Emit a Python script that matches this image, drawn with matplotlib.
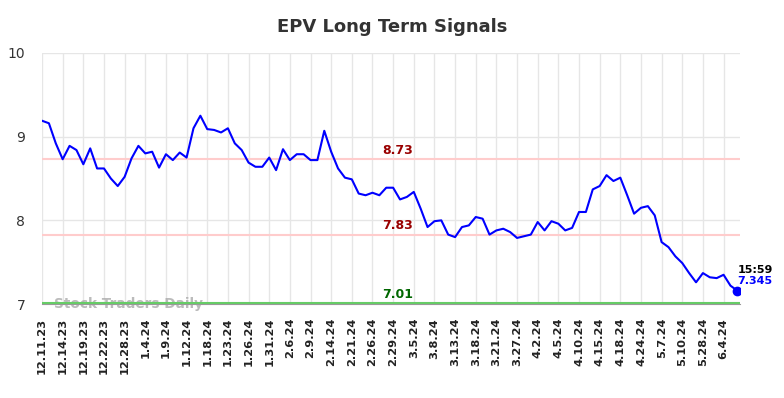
import matplotlib.pyplot as plt

# Close prices, one point per trading day shown on the chart
prices = [
    9.19, 9.16, 8.92, 8.73, 8.89, 8.84, 8.67, 8.86, 8.62, 8.62,
    8.50, 8.41, 8.52, 8.74, 8.89, 8.80, 8.82, 8.63, 8.79, 8.72,
    8.81, 8.75, 9.10, 9.25, 9.09, 9.08, 9.05, 9.10, 8.92, 8.84,
    8.69, 8.64, 8.64, 8.75, 8.60, 8.85, 8.72, 8.79, 8.79, 8.72,
    8.72, 9.07, 8.82, 8.62, 8.51, 8.49, 8.32, 8.30, 8.33, 8.30,
    8.39, 8.39, 8.25, 8.28, 8.34, 8.14, 7.92, 7.99, 8.00, 7.83,
    7.80, 7.92, 7.94, 8.04, 8.02, 7.83, 7.88, 7.90, 7.86, 7.79,
    7.81, 7.83, 7.98, 7.88, 7.99, 7.96, 7.88, 7.91, 8.10, 8.10,
    8.37, 8.41, 8.54, 8.47, 8.51, 8.30, 8.08, 8.15, 8.17, 8.06,
    7.74, 7.68, 7.57, 7.49, 7.37, 7.26, 7.37, 7.32, 7.31, 7.35,
    7.22, 7.16,
]

tick_labels = [
    "12.11.23", "12.14.23", "12.19.23", "12.22.23", "12.28.23", "1.4.24",
    "1.9.24", "1.12.24", "1.18.24", "1.23.24", "1.26.24", "1.31.24",
    "2.6.24", "2.9.24", "2.14.24", "2.21.24", "2.26.24", "2.29.24",
    "3.5.24", "3.8.24", "3.13.24", "3.18.24", "3.21.24", "3.27.24",
    "4.2.24", "4.5.24", "4.10.24", "4.15.24", "4.18.24", "4.24.24",
    "5.7.24", "5.10.24", "5.28.24", "6.4.24",
]

resistance_high = 8.73
resistance_low = 7.83
support = 7.01
last_time = "15:59"
last_price = "7.345"

fig = plt.figure(figsize=(7.84, 3.98), dpi=100)
ax = fig.add_axes([0.0536, 0.236, 0.8904, 0.631])

x = list(range(len(prices)))
ax.plot(x, prices, color="#0000ff", linewidth=1.5, zorder=4)
ax.plot(x[-1], prices[-1], "o", color="#0000ff", markersize=6, zorder=5)

ax.axhline(resistance_high, color="#ffcccc", linewidth=1.5, zorder=2)
ax.axhline(resistance_low, color="#ffcccc", linewidth=1.5, zorder=2)
ax.axhline(support, color="#66cc66", linewidth=1.5, zorder=3)

# level labels sit near the middle of the chart
mid = 51.7
ax.text(mid, resistance_high + 0.03, f"{resistance_high:.2f}", color="#990000",
        fontsize=9, fontweight="bold", ha="center", va="bottom")
ax.text(mid, resistance_low + 0.03, f"{resistance_low:.2f}", color="#990000",
        fontsize=9, fontweight="bold", ha="center", va="bottom")
ax.text(mid, support + 0.03, f"{support:.2f}", color="#006600",
        fontsize=9, fontweight="bold", ha="center", va="bottom")

ax.text(x[-1], 7.35, last_time, color="black", fontsize=8, fontweight="bold",
        ha="left", va="bottom")
ax.text(x[-1], 7.33, last_price, color="#0000ff", fontsize=8, fontweight="bold",
        ha="left", va="top")

ax.text(1.7, 7.0, "Stock Traders Daily", color="#aaaaaa", alpha=0.8,
        fontsize=9.8, fontweight="bold", ha="left", va="center", zorder=1)

ax.set_xlim(0, 101.4)
ax.set_ylim(7, 10)
ax.set_yticks([7, 8, 9, 10])
ax.set_xticks(range(0, len(prices), 3))
ax.set_xticklabels(tick_labels, rotation=90, fontsize=8.2, fontweight="bold",
                   color="#222222")
ax.tick_params(axis="y", labelsize=10, colors="#333333", length=0, pad=12)
ax.tick_params(axis="x", length=0, pad=10)

ax.grid(True, color="#e6e6e6", linewidth=1)
ax.set_axisbelow(True)
for side in ["top", "right", "left"]:
    ax.spines[side].set_visible(False)
ax.spines["bottom"].set_color("#999999")

fig.suptitle("EPV Long Term Signals", fontsize=13, fontweight="bold",
             color="#333333", y=0.955)

fig.savefig("out.png", dpi=100)
